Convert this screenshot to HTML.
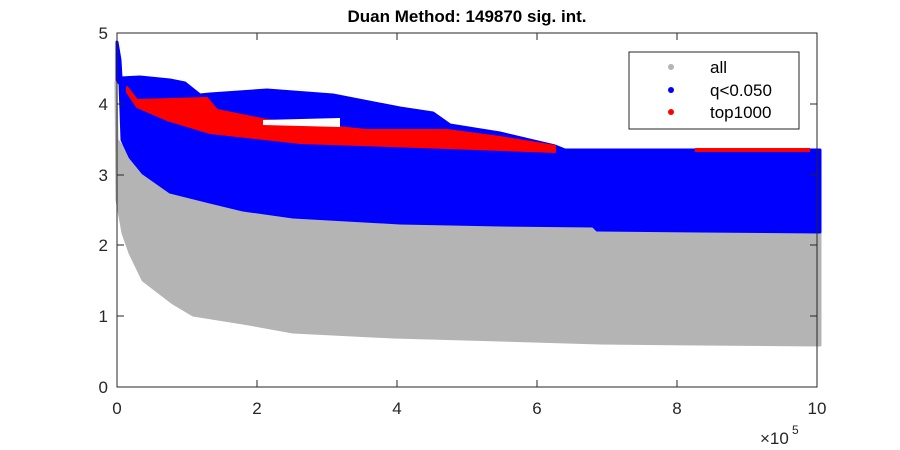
<!DOCTYPE html><html><head><style>body{margin:0;background:#fff}svg{display:block;font-family:"Liberation Sans","DejaVu Sans",sans-serif}</style></head><body>
<svg width="900" height="450" viewBox="0 0 900 450">
<rect width="900" height="450" fill="#fff"/>
<polygon fill="#b4b4b4" stroke="#b4b4b4" stroke-width="3" stroke-linejoin="round" points="116,82 117,140 130,157 143,173 170,192 210,202 243,210 293,217 400,223 500,225 593,226 597,230 700,231 820,232 820,345 700,344 600,343 500,340 393,337 293,332 243,323 193,315 173,303 143,280 130,253 123,233 117,200"/>
<polygon fill="#0000ff" stroke="#0000ff" stroke-width="3" stroke-linejoin="round" points="117,42 120,60 121,78 140,77 170,80 185,83 200,95 210,94 267,90 333,95 400,108 433,113 450,125 500,133 555,146 565,150 820,150 820,232 700,231 597,230 593,226 500,225 400,223 293,217 243,210 210,202 170,192 143,173 130,157 122,140 120,84 117,80"/>
<polygon fill="#ff0000" stroke="#ff0000" stroke-width="2" stroke-linejoin="round" points="127,87 137,100 207,98 217,110 267,120 367,130 447,130 500,137 555,146 555,152 447,148 300,143 210,133 167,120 137,107 127,92"/>
<polygon fill="#fff" points="263,120 340,118 340,127 263,125"/>
<rect x="695" y="148" width="115" height="4" fill="#ff0000"/>
<rect x="117" y="33" width="700" height="354" fill="none" stroke="#262626" stroke-width="1"/>
<g stroke="#262626" stroke-width="1">
<line x1="257" y1="387" x2="257" y2="380"/><line x1="397" y1="387" x2="397" y2="380"/><line x1="537" y1="387" x2="537" y2="380"/><line x1="677" y1="387" x2="677" y2="380"/>
<line x1="257" y1="33" x2="257" y2="40"/><line x1="397" y1="33" x2="397" y2="40"/><line x1="537" y1="33" x2="537" y2="40"/><line x1="677" y1="33" x2="677" y2="40"/>
<line x1="117" y1="316" x2="124" y2="316"/><line x1="117" y1="245" x2="124" y2="245"/><line x1="117" y1="175" x2="124" y2="175"/><line x1="117" y1="104" x2="124" y2="104"/>
<line x1="817" y1="316" x2="810" y2="316"/><line x1="817" y1="245" x2="810" y2="245"/><line x1="817" y1="175" x2="810" y2="175"/><line x1="817" y1="104" x2="810" y2="104"/>
</g>
<g font-size="17" fill="#262626" text-anchor="middle">
<text x="117" y="414">0</text><text x="257" y="414">2</text><text x="397" y="414">4</text><text x="537" y="414">6</text><text x="677" y="414">8</text><text x="817" y="414">10</text>
</g>
<g font-size="17" fill="#262626" text-anchor="end">
<text x="108" y="393">0</text><text x="108" y="322">1</text><text x="108" y="251">2</text><text x="108" y="181">3</text><text x="108" y="110">4</text><text x="108" y="39">5</text>
</g>
<text x="760" y="444" font-size="17" fill="#262626">×10</text><text x="792" y="434" font-size="12" fill="#262626">5</text>
<text x="467" y="22" font-size="17" font-weight="bold" text-anchor="middle" fill="#000">Duan Method: 149870 sig. int.</text>
<rect x="629" y="52" width="170" height="77" fill="#fff" stroke="#262626" stroke-width="1"/>
<circle cx="671" cy="67" r="3" fill="#b4b4b4"/><circle cx="671" cy="90" r="3" fill="#0000ff"/><circle cx="671" cy="112" r="3" fill="#ff0000"/>
<g font-size="17" fill="#000"><text x="710" y="73">all</text><text x="710" y="96">q&lt;0.050</text><text x="710" y="118">top1000</text></g>
</svg></body></html>
